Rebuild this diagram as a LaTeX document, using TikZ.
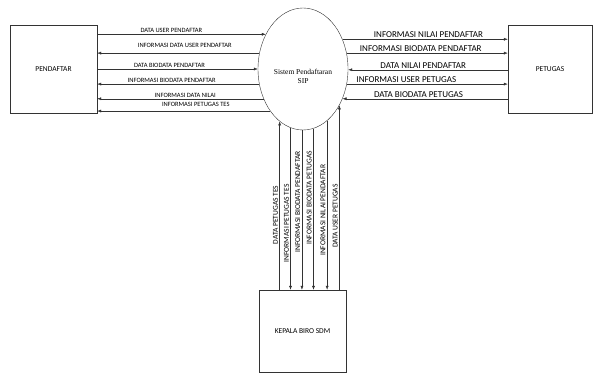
\documentclass[tikz,border=0pt]{standalone}
\usepackage{fontspec}
\setmainfont{Carlito}
\newfontfamily\sipfont{Liberation Serif}
\usetikzlibrary{arrows.meta,shapes.geometric}

\tikzset{
	entitas/.style={draw=black!80, thin, minimum width=87pt, minimum height=88pt, font=\fontsize{7.5}{9}\selectfont},
	flow/.style={draw=black!80, thin, -{Latex[length=4pt,width=3pt]}},
	lblkiri/.style={font=\fontsize{6.5}{7}\selectfont, inner sep=1.5pt, above},
	lblkanan/.style={font=\fontsize{9}{10}\selectfont, inner sep=1pt, above},
	lblbawah/.style={font=\fontsize{7.5}{8}\selectfont, inner sep=1.5pt, rotate=90, above},
}

\begin{document}
\begin{tikzpicture}[x=1pt, y=-1pt]
					\useasboundingbox (0,0) rectangle (593,374);
					
					% entitas
					\node[entitas] (pendaftar) at (53.5,69) {PENDAFTAR};
					\node[entitas, minimum width=84pt] (petugas) at (550,69) {PETUGAS};
					\node[entitas, minimum height=82pt] (kepala) at (302.5,331) {KEPALA BIRO SDM};
					
					% proses
					\node[draw=black!80, thin, ellipse, minimum width=90pt, minimum height=122pt, inner sep=0pt] (sip) at (303,69) {};
					\node[font=\sipfont\fontsize{7.5}{9}\selectfont, align=center] (siptext) at (303,76) {Sistem Pendaftaran\\SIP};
					
					% pendaftar - sistem
					\draw[flow] (pendaftar.east |- sip.137) -- node[lblkiri, pos=0.44] {DATA USER PENDAFTAR} (sip.137);
					\draw[flow] (sip.160) -- node[lblkiri, above=4pt, pos=0.46] {INFORMASI DATA USER PENDAFTAR} (pendaftar.east |- sip.160);
					\draw[flow] (pendaftar.east |- sip.180) -- node[lblkiri, pos=0.45] {DATA BIODATA PENDAFTAR} (sip.180);
					\draw[flow] (sip.199) -- node[lblkiri, pos=0.54] {INFORMASI BIODATA PENDAFTAR} (pendaftar.east |- sip.199);
					\draw[flow] (sip.217) -- node[lblkiri, pos=0.47] {INFORMASI DATA NILAI} (pendaftar.east |- sip.217);
					\draw[flow] (sip.232) -- node[lblkiri, above=3pt, pos=0.43] {INFORMASI PETUGAS TES} (pendaftar.east |- sip.232);
					
					% sistem - petugas
					\draw[flow] (sip.37) -- node[lblkanan, pos=0.52] {INFORMASI NILAI PENDAFTAR} (petugas.west |- sip.37);
					\draw[flow] (sip.20) -- node[lblkanan, pos=0.46] {INFORMASI BIODATA PENDAFTAR} (petugas.west |- sip.20);
					\draw[flow] (petugas.west |- sip.359) -- node[lblkanan, pos=0.53] {DATA NILAI PENDAFTAR} (sip.359);
					\draw[flow] (sip.341) -- node[lblkanan, pos=0.37] {INFORMASI USER PETUGAS} (petugas.west |- sip.341);
					\draw[flow] (petugas.west |- sip.323) -- node[lblkanan, pos=0.54] {DATA BIODATA PETUGAS} (sip.323);
					
					% sistem - kepala biro
					\draw[flow] (kepala.north -| sip.246) -- node[lblbawah, pos=0.445] {DATA PETUGAS TES} (sip.246);
					\draw[flow] (sip.258) -- node[lblbawah, pos=0.59] {INFORMASI PETUGAS TES} (kepala.north -| sip.258);
					\draw[flow] (sip.269) -- node[lblbawah, pos=0.45] {INFORMASI BIODATA PENDAFTAR} (kepala.north -| sip.269);
					\draw[flow] (sip.280) -- node[lblbawah, pos=0.43] {INFORMASI BIODATA PETUGAS} (kepala.north -| sip.280);
					\draw[flow] (sip.295) -- node[lblbawah, pos=0.53] {INFORMASI NILAI PENDAFTAR} (kepala.north -| sip.295);
					\draw[flow] (kepala.north -| sip.315) -- node[lblbawah, pos=0.40] {DATA USER PETUGAS} (sip.315);
					\end{tikzpicture}
\end{document}
